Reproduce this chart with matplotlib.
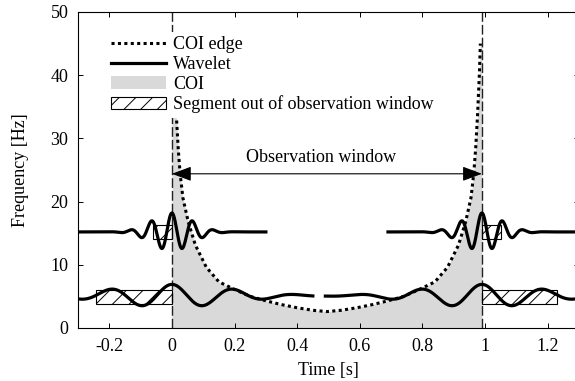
import numpy as np
import matplotlib.pyplot as plt
import matplotlib.patches as mpatches
from matplotlib.lines import Line2D
from matplotlib.ticker import FormatStrFormatter

plt.rcParams['font.family'] = ['Liberation Serif', 'DejaVu Serif']
plt.rcParams['font.size'] = 13
plt.rcParams['axes.unicode_minus'] = False
plt.rcParams['hatch.linewidth'] = 0.7

# observation window [s]
win_start = 0.0
win_end = 0.99

# cone of influence edge: distance from window edge [s] -> frequency [Hz]
coi_dt = [0.005, 0.008, 0.014, 0.020, 0.026, 0.035, 0.052, 0.075, 0.110,
          0.150, 0.200, 0.250, 0.300, 0.350, 0.400, 0.450, 0.495]
coi_freq = [45.0, 40.3, 33.7, 28.4, 24.5, 20.6, 16.8, 13.1, 9.6,
            7.3, 6.1, 5.0, 4.3, 3.7, 3.2, 2.8, 2.6]

# example Morlet wavelets at the window edges
wav_centre = [0.0, 0.0, 0.99, 0.99]
wav_freq = [15.2, 5.1, 15.2, 5.1]
wav_amp = [3.0, 1.8, 3.0, 1.8]
wav_tmin = [-0.3, -0.3, 0.69, 0.49]
wav_tmax = [0.3, 0.45, 1.3, 1.3]

# parts of the wavelets that fall outside the window
seg_t0 = [-0.062, -0.242, 0.99, 0.99]
seg_t1 = [0.0, 0.0, 1.052, 1.23]
seg_f = [15.2, 4.95, 15.2, 4.95]
seg_h = 2.15

arrow_f = 24.4
coi_grey = '#d9d9d9'

fig = plt.figure(figsize=(5.75, 3.81), dpi=100)
ax = fig.add_axes([78 / 575, 53 / 381, 501 / 575, 316 / 381])

# COI curve, mirrored about the window centre
dt = np.array(coi_dt)
fq = np.array(coi_freq)
t_coi = np.concatenate([win_start + dt, (win_end - dt)[::-1]])
f_coi = np.concatenate([fq, fq[::-1]])

t_fill = np.concatenate([[win_start], t_coi, [win_end]])
f_fill = np.concatenate([[fq[0]], f_coi, [fq[0]]])
ax.fill_between(t_fill, 0, f_fill, color=coi_grey, lw=0, zorder=1)

for xv in (win_start, win_end):
    ax.axvline(xv, color='#222222', lw=1.0, ls=(0, (7, 2.2)), zorder=2)

ax.plot(t_coi, f_coi, color='k', lw=2.2, ls=(0, (1, 1.1)), zorder=3)

for c, f, a, t0, t1 in zip(wav_centre, wav_freq, wav_amp, wav_tmin, wav_tmax):
    t = np.linspace(t0, t1, 800)
    sigma = 6.0 / (2 * np.pi * f)
    y = f + a * np.exp(-(t - c) ** 2 / (2 * sigma ** 2)) * np.cos(2 * np.pi * f * (t - c))
    ax.plot(t, y, color='k', lw=2.3, zorder=4)

for t0, t1, f in zip(seg_t0, seg_t1, seg_f):
    ax.add_patch(mpatches.Rectangle((t0, f - seg_h / 2), t1 - t0, seg_h,
                                    facecolor='none', edgecolor='k', lw=0.8,
                                    hatch='//', zorder=5))

ax.annotate('', xy=(win_end, arrow_f), xytext=(win_start, arrow_f),
            arrowprops=dict(arrowstyle='<|-|>,head_length=1.2,head_width=0.45',
                            mutation_scale=10, lw=0.8, color='k',
                            shrinkA=0, shrinkB=0), zorder=6)
ax.text(0.476, 26.3, 'Observation window', ha='center', va='baseline')

ax.set_xlim(-0.3, 1.3)
ax.set_ylim(0, 50)
ax.set_xticks([-0.2, 0, 0.2, 0.4, 0.6, 0.8, 1.0, 1.2])
ax.set_yticks([0, 10, 20, 30, 40, 50])
ax.xaxis.set_major_formatter(FormatStrFormatter('%g'))
ax.tick_params(direction='in', top=True, right=True, length=3.5, width=0.7, pad=7)
for s in ax.spines.values():
    s.set_linewidth(0.8)

ax.set_xlabel('Time [s]')
ax.set_ylabel('Frequency [Hz]')
ax.xaxis.set_label_coords(0.5, -0.108)
ax.yaxis.set_label_coords(-0.098, 0.5)

handles = [
    Line2D([], [], color='k', lw=2.2, ls=(0, (1, 1.1))),
    Line2D([], [], color='k', lw=2.3),
    mpatches.Patch(facecolor=coi_grey, edgecolor='none'),
    mpatches.Patch(facecolor='white', edgecolor='k', lw=0.8, hatch='//'),
]
labels = ['COI edge', 'Wavelet', 'COI', 'Segment out of observation window']
leg = ax.legend(handles, labels, loc='upper left', bbox_to_anchor=(0.056, 0.937),
                borderaxespad=0, frameon=True, fancybox=False, edgecolor='none',
                facecolor='white', framealpha=1, handlelength=3.05,
                handletextpad=0.4, labelspacing=0.15, borderpad=0.25)
leg.set_zorder(10)

fig.savefig('out.png', dpi=100)
